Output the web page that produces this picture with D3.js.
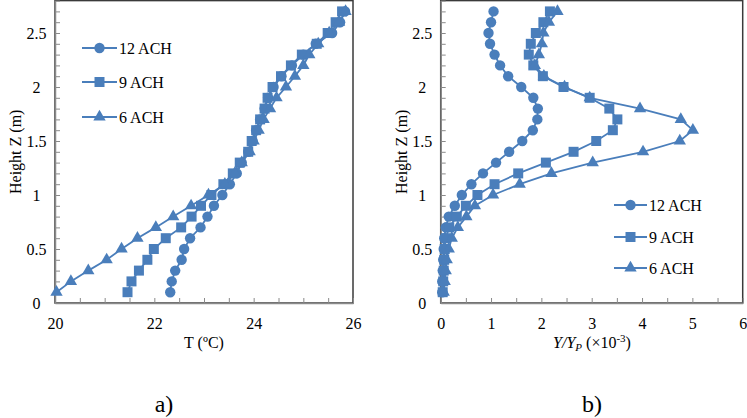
<!DOCTYPE html>
<html><head><meta charset="utf-8">
<script src="https://cdn.jsdelivr.net/npm/d3@7"></script>
<style>
html,body{margin:0;padding:0;background:#fff;}
svg{display:block;}
svg text{font-family:"Liberation Serif","Times New Roman",serif;}
</style></head>
<body><svg id="c" width="747" height="418" font-family="Liberation Serif"></svg>
<script>
// ---- data ----
const heights = [0.1,0.2,0.3,0.4,0.5,0.6,0.7,0.8,0.9,1.0,1.1,1.2,1.3,1.4,1.5,1.6,1.7,1.8,1.9,2.0,2.1,2.2,2.3,2.4,2.5,2.6,2.7];
const seriesNames = ["12 ACH","9 ACH","6 ACH"];
const temp12 = [22.32,22.35,22.42,22.55,22.60,22.72,22.93,23.07,23.20,23.37,23.52,23.66,23.76,23.89,23.98,24.05,24.13,24.22,24.29,24.40,24.56,24.77,25.00,25.25,25.58,25.74,25.84];
const temp9  = [21.46,21.54,21.69,21.86,21.99,22.23,22.54,22.75,22.94,23.15,23.39,23.58,23.72,23.89,23.96,24.05,24.13,24.22,24.28,24.38,24.55,24.75,24.97,25.27,25.49,25.65,25.78];
const temp6  = [20.03,20.32,20.67,21.04,21.34,21.66,22.03,22.38,22.74,23.09,23.42,23.62,23.76,23.92,24.00,24.10,24.20,24.33,24.46,24.65,24.83,25.00,25.12,25.30,25.52,25.72,25.85];
const conc12 = [0.03,0.03,0.04,0.05,0.06,0.07,0.10,0.16,0.28,0.42,0.61,0.84,1.10,1.36,1.62,1.83,1.92,1.93,1.84,1.60,1.34,1.18,1.07,0.98,0.95,1.00,1.05];
const conc9  = [0.04,0.05,0.06,0.07,0.08,0.10,0.17,0.32,0.50,0.73,1.07,1.54,2.09,2.64,3.09,3.42,3.51,3.35,2.96,2.44,2.03,1.84,1.75,1.79,1.89,2.04,2.17];
const conc6  = [0.06,0.08,0.10,0.12,0.16,0.22,0.34,0.51,0.68,1.04,1.57,2.20,3.02,4.02,4.75,5.01,4.77,3.96,2.96,2.46,2.05,1.87,1.95,2.01,2.04,2.15,2.32];
const tTicks = [20,22,24,26];
const cTicks = [0,1,2,3,4,5,6];
const zTicks = [0,0.5,1,1.5,2,2.5];

const COLOR = "#4a7ebb";
const AXIS = "#8a8a8a";
const FRAME = "#3a3a3a";
const FONT = "Liberation Serif";
const svg = d3.select("#c");

const y = d3.scaleLinear().domain([0,2.8]).range([303,0.6]);
const xL = d3.scaleLinear().domain([20,26]).range([55,353]);
const xR = d3.scaleLinear().domain([0,6]).range([440.7,742.7]);

const symbols = [
  d3.symbol().type(d3.symbolCircle).size(85),
  d3.symbol().type(d3.symbolSquare).size(100),
  d3.symbol().type(d3.symbolTriangle).size(66)
];

function panel(x, xMax, xStep, xLabels, data, legendPos, legendRows) {
  const [x0,x1] = x.range();
  svg.append("rect").attr("x",x0).attr("y",y(2.8)).attr("width",x1-x0).attr("height",y(0)-y(2.8))
    .attr("fill","none").attr("stroke",FRAME).attr("stroke-width",1.5);
  const xa = d3.axisBottom(x).tickValues(d3.range(x.domain()[0], xMax+0.001, xStep))
    .tickSizeInner(-5).tickSizeOuter(0).tickPadding(14.5)
    .tickFormat(d => xLabels.some(v=>Math.abs(v-d)<1e-6) ? d3.format("d")(d) : "");
  const gx = svg.append("g").attr("transform",`translate(0,${y(0)})`).call(xa).attr("font-family",FONT);
  gx.select(".domain").attr("stroke",AXIS).attr("stroke-width",1.5);
  gx.selectAll(".tick line").attr("stroke",AXIS).attr("stroke-width",1);
  gx.selectAll("text").attr("font-size",16).attr("fill","#000").attr("font-family",FONT);
  const ya = d3.axisLeft(y).tickValues(d3.range(0,2.801,0.1).map(v=>+v.toFixed(1)))
    .tickSizeInner(-5).tickSizeOuter(0)
    .tickFormat(d => zTicks.some(v=>Math.abs(v-d)<1e-6) ? String(d) : "");
  const gy = svg.append("g").attr("transform",`translate(${x0},0)`).call(ya).attr("font-family",FONT);
  gy.select(".domain").attr("stroke",AXIS).attr("stroke-width",1.5);
  gy.selectAll(".tick line").attr("stroke",AXIS).attr("stroke-width",1);
  gy.selectAll("text").attr("font-size",16).attr("fill","#000").attr("font-family",FONT)
    .attr("text-anchor","middle").attr("x",-18.5);
  const line = d3.line().x(d=>x(d[0])).y(d=>y(d[1]));
  data.forEach((vals,i) => {
    const pts = vals.map((v,k)=>[v,heights[k]]);
    svg.append("path").datum(pts).attr("d",line).attr("fill","none").attr("stroke",COLOR).attr("stroke-width",1.8);
    svg.append("g").selectAll("path").data(pts).join("path")
      .attr("d",symbols[i]()).attr("transform",d=>`translate(${x(d[0])},${y(d[1])})`)
      .attr("fill",COLOR);
  });
  const [lx0,lx1,tx] = legendPos;
  seriesNames.forEach((name,i)=>{
    const ly = legendRows[i];
    svg.append("line").attr("x1",lx0).attr("x2",lx1).attr("y1",ly).attr("y2",ly).attr("stroke",COLOR).attr("stroke-width",1.8);
    svg.append("path").attr("d",symbols[i]()).attr("transform",`translate(${(lx0+lx1)/2},${ly})`).attr("fill",COLOR);
    svg.append("text").attr("x",tx).attr("y",ly+5.5).attr("font-size",16).attr("font-family",FONT).text(name);
  });
  svg.append("text").attr("transform",`translate(${x0-34},${(y(0)+y(2.8))/2}) rotate(-90)`)
    .attr("text-anchor","middle").attr("font-size",16).attr("font-family",FONT).text("Height Z (m)");
}

panel(xL, 26, 0.5, tTicks, [temp12,temp9,temp6], [82,117,119], [48,82,117]);
panel(xR, 6, 0.5, cTicks, [conc12,conc9,conc6], [614,647,649], [205,237,268]);

svg.append("text").attr("x",204).attr("y",348).attr("text-anchor","middle").attr("font-size",16).attr("font-family",FONT).text("T (ºC)");
const t2 = svg.append("text").attr("x",592).attr("y",348).attr("text-anchor","middle").attr("font-size",16).attr("font-family",FONT);
t2.append("tspan").attr("font-style","italic").text("Y/Y");
t2.append("tspan").attr("font-style","italic").attr("font-size",11).attr("dy",3).text("P");
t2.append("tspan").attr("dy",-3).text(" (×10");
t2.append("tspan").attr("font-size",11).attr("dy",-6).text("-3");
t2.append("tspan").attr("dy",6).text(")");

svg.append("text").attr("x",164).attr("y",412).attr("text-anchor","middle").attr("font-size",24).attr("font-family",FONT).text("a)");
svg.append("text").attr("x",592).attr("y",412).attr("text-anchor","middle").attr("font-size",24).attr("font-family",FONT).text("b)");
</script></body></html>
